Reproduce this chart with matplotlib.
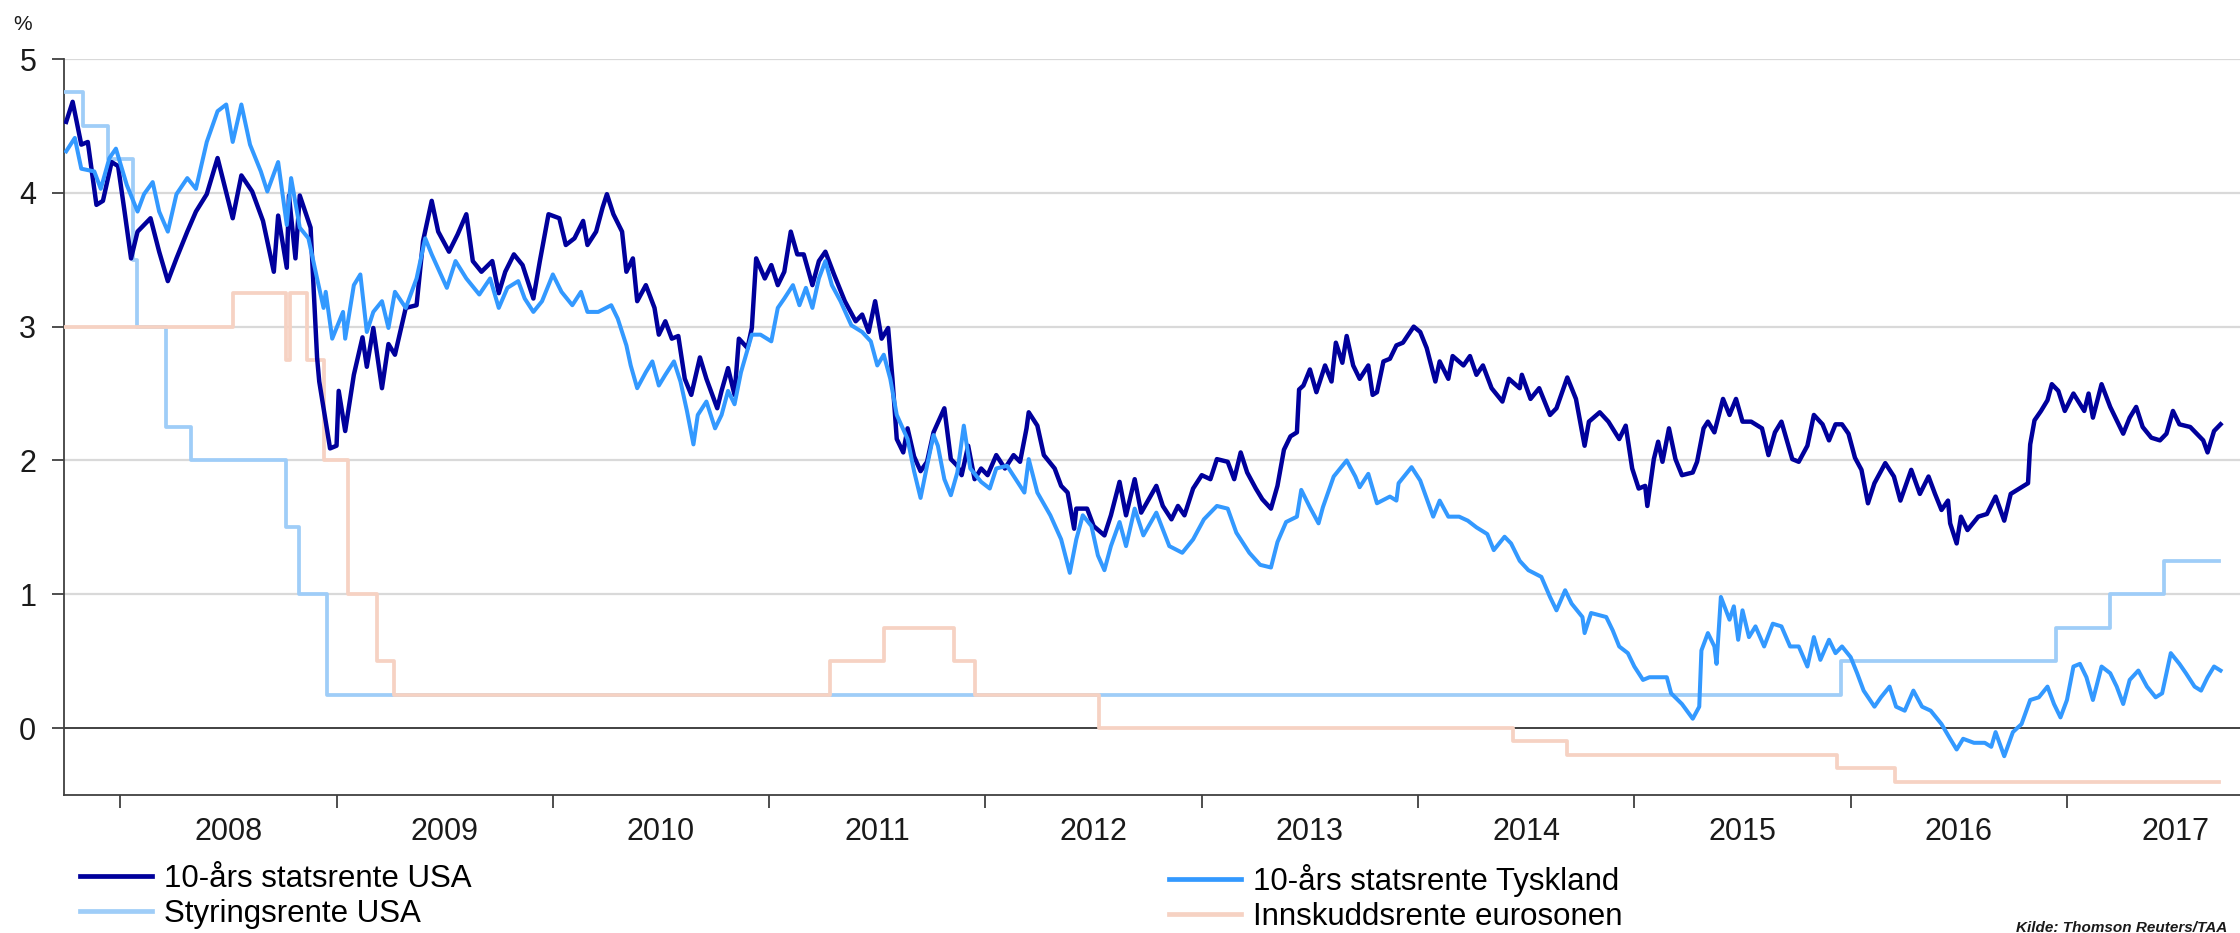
import matplotlib
matplotlib.use('Agg')
import matplotlib.pyplot as plt
from matplotlib.lines import Line2D
import numpy as np
import pandas as pd

plt.rcParams['font.family'] = ['Liberation Sans', 'DejaVu Sans']

# 10-year US treasury yield (decimal year, %)
us_year = [
    2007.75, 2007.78, 2007.82, 2007.85, 2007.89, 2007.92, 2007.96, 2007.99,
    2008.02, 2008.05, 2008.08, 2008.14, 2008.18, 2008.22, 2008.26, 2008.31, 2008.35, 2008.40,
    2008.45, 2008.52, 2008.56, 2008.61, 2008.66, 2008.71, 2008.73, 2008.77, 2008.78, 2008.81,
    2008.83, 2008.88, 2008.91, 2008.92, 2008.97,
    2009.00, 2009.01, 2009.04, 2009.08, 2009.12, 2009.14, 2009.17, 2009.21, 2009.24, 2009.27,
    2009.32, 2009.37, 2009.40, 2009.44, 2009.47, 2009.52, 2009.56, 2009.60, 2009.63, 2009.67,
    2009.72, 2009.75, 2009.78, 2009.82, 2009.86, 2009.91, 2009.94, 2009.98,
    2010.03, 2010.06, 2010.10, 2010.14, 2010.16, 2010.20, 2010.23, 2010.25, 2010.28, 2010.32,
    2010.34, 2010.37, 2010.39, 2010.43, 2010.47, 2010.49, 2010.52, 2010.55, 2010.58, 2010.61,
    2010.64, 2010.68, 2010.71, 2010.76, 2010.78, 2010.81, 2010.84, 2010.86, 2010.90, 2010.92,
    2010.94, 2010.98,
    2011.01, 2011.04, 2011.07, 2011.10, 2011.13, 2011.16, 2011.20, 2011.23, 2011.26, 2011.30,
    2011.35, 2011.40, 2011.43, 2011.46, 2011.49, 2011.52, 2011.55, 2011.57, 2011.59, 2011.62,
    2011.64, 2011.67, 2011.70, 2011.73, 2011.76, 2011.81, 2011.84, 2011.87, 2011.89, 2011.92,
    2011.95, 2011.98,
    2012.01, 2012.05, 2012.09, 2012.13, 2012.16, 2012.19, 2012.20, 2012.24, 2012.27, 2012.32,
    2012.35, 2012.38, 2012.41, 2012.42, 2012.47, 2012.50, 2012.55, 2012.58, 2012.62, 2012.65,
    2012.69, 2012.72, 2012.79, 2012.82, 2012.86, 2012.89, 2012.92, 2012.96,
    2013.00, 2013.04, 2013.07, 2013.12, 2013.15, 2013.18, 2013.21, 2013.25, 2013.28, 2013.32,
    2013.35, 2013.38, 2013.41, 2013.44, 2013.45, 2013.47, 2013.50, 2013.53, 2013.57, 2013.60,
    2013.62, 2013.65, 2013.67, 2013.70, 2013.73, 2013.77, 2013.79, 2013.81, 2013.84, 2013.87,
    2013.90, 2013.93, 2013.98,
    2014.01, 2014.04, 2014.08, 2014.10, 2014.14, 2014.16, 2014.21, 2014.24, 2014.27, 2014.30,
    2014.34, 2014.39, 2014.42, 2014.47, 2014.48, 2014.52, 2014.56, 2014.61, 2014.64, 2014.69,
    2014.73, 2014.77, 2014.79, 2014.84, 2014.88, 2014.93, 2014.96, 2014.99,
    2015.02, 2015.05, 2015.06, 2015.09, 2015.11, 2015.13, 2015.16, 2015.19, 2015.22, 2015.27,
    2015.29, 2015.32, 2015.34, 2015.37, 2015.41, 2015.44, 2015.47, 2015.50, 2015.54, 2015.59,
    2015.62, 2015.65, 2015.68, 2015.73, 2015.76, 2015.80, 2015.83, 2015.87, 2015.90, 2015.93,
    2015.96, 2015.99,
    2016.02, 2016.05, 2016.08, 2016.11, 2016.16, 2016.20, 2016.23, 2016.28, 2016.32, 2016.36,
    2016.39, 2016.42, 2016.45, 2016.46, 2016.49, 2016.51, 2016.54, 2016.59, 2016.63, 2016.67,
    2016.71, 2016.74, 2016.79, 2016.82, 2016.83, 2016.85, 2016.88, 2016.91, 2016.93, 2016.96,
    2016.99,
    2017.03, 2017.08, 2017.10, 2017.12, 2017.16, 2017.20, 2017.26, 2017.29, 2017.32, 2017.35,
    2017.39, 2017.43, 2017.46, 2017.49, 2017.52, 2017.57, 2017.60, 2017.63, 2017.65, 2017.68,
    2017.71,
]
us_yield = [
    4.53, 4.68, 4.36, 4.38, 3.91, 3.94, 4.23, 4.20,
    3.86, 3.51, 3.71, 3.81, 3.56, 3.34, 3.51, 3.71, 3.86, 3.99,
    4.26, 3.81, 4.13, 4.01, 3.79, 3.41, 3.83, 3.44, 3.98, 3.51,
    3.98, 3.74, 2.77, 2.59, 2.09,
    2.11, 2.52, 2.22, 2.64, 2.92, 2.70, 2.99, 2.54, 2.87, 2.79,
    3.14, 3.16, 3.64, 3.94, 3.71, 3.56, 3.69, 3.84, 3.49, 3.41,
    3.49, 3.25, 3.41, 3.54, 3.46, 3.21, 3.49, 3.84,
    3.81, 3.61, 3.66, 3.79, 3.61, 3.71, 3.89, 3.99, 3.84, 3.71,
    3.41, 3.51, 3.19, 3.31, 3.14, 2.94, 3.04, 2.91, 2.93, 2.61,
    2.49, 2.77, 2.61, 2.39, 2.52, 2.69, 2.49, 2.91, 2.84, 2.99,
    3.51, 3.36,
    3.46, 3.31, 3.41, 3.71, 3.54, 3.54, 3.31, 3.49, 3.56, 3.39,
    3.19, 3.04, 3.09, 2.96, 3.19, 2.91, 2.99, 2.61, 2.16, 2.06,
    2.24, 2.03, 1.92, 1.99, 2.21, 2.39, 2.01, 1.96, 1.89, 2.11,
    1.86, 1.94,
    1.89, 2.04, 1.94, 2.04, 1.99, 2.24, 2.36, 2.26, 2.04, 1.94,
    1.81, 1.76, 1.49, 1.64, 1.64, 1.51, 1.44, 1.59, 1.84, 1.59,
    1.86, 1.61, 1.81, 1.66, 1.56, 1.66, 1.59, 1.79,
    1.89, 1.86, 2.01, 1.99, 1.86, 2.06, 1.91, 1.79, 1.71, 1.64,
    1.81, 2.08, 2.18, 2.21, 2.53, 2.56, 2.68, 2.51, 2.71, 2.59,
    2.88, 2.73, 2.93, 2.71, 2.61, 2.71, 2.49, 2.51, 2.74, 2.76,
    2.86, 2.88, 3.00,
    2.96, 2.84, 2.59, 2.74, 2.61, 2.78, 2.71, 2.78, 2.64, 2.71,
    2.54, 2.44, 2.61, 2.54, 2.64, 2.46, 2.54, 2.34, 2.39, 2.62,
    2.46, 2.11, 2.29, 2.36, 2.29, 2.16, 2.26, 1.94,
    1.79, 1.81, 1.66, 2.01, 2.14, 1.99, 2.24, 2.01, 1.89, 1.91,
    1.99, 2.24, 2.29, 2.21, 2.46, 2.34, 2.46, 2.29, 2.29, 2.24,
    2.04, 2.21, 2.29, 2.01, 1.99, 2.11, 2.34, 2.27, 2.15, 2.27,
    2.27, 2.20,
    2.02, 1.93, 1.68, 1.83, 1.98, 1.88, 1.70, 1.93, 1.75, 1.88,
    1.75, 1.63, 1.70, 1.53, 1.38, 1.58, 1.48, 1.58, 1.60, 1.73,
    1.55, 1.75, 1.80, 1.83, 2.12, 2.30, 2.37, 2.45, 2.57, 2.52,
    2.37,
    2.50, 2.37, 2.50, 2.32, 2.57, 2.40, 2.20, 2.32, 2.40, 2.25,
    2.17, 2.15, 2.20, 2.37, 2.27, 2.25, 2.20, 2.15, 2.06, 2.22,
    2.27,
]

# 10-year German government bond yield
de_year = [
    2007.75, 2007.79, 2007.82, 2007.88, 2007.91, 2007.95, 2007.98,
    2008.03, 2008.08, 2008.11, 2008.15, 2008.18, 2008.22, 2008.26, 2008.31, 2008.35, 2008.40,
    2008.45, 2008.49, 2008.52, 2008.56, 2008.60, 2008.65, 2008.68, 2008.73, 2008.77, 2008.79,
    2008.83, 2008.87, 2008.91, 2008.94, 2008.95, 2008.98,
    2009.03, 2009.04, 2009.08, 2009.11, 2009.14, 2009.17, 2009.21, 2009.24, 2009.27, 2009.32,
    2009.37, 2009.41, 2009.44, 2009.51, 2009.55, 2009.60, 2009.66, 2009.71, 2009.75, 2009.79,
    2009.84, 2009.87, 2009.91, 2009.95,
    2010.00, 2010.04, 2010.09, 2010.13, 2010.16, 2010.21, 2010.27, 2010.30, 2010.34, 2010.36,
    2010.39, 2010.43, 2010.46, 2010.49, 2010.52, 2010.56, 2010.59, 2010.62, 2010.65, 2010.67,
    2010.71, 2010.75, 2010.78, 2010.81, 2010.84, 2010.87, 2010.92, 2010.96,
    2011.01, 2011.04, 2011.07, 2011.11, 2011.14, 2011.17, 2011.20, 2011.23, 2011.26, 2011.29,
    2011.33, 2011.38, 2011.43, 2011.47, 2011.50, 2011.53, 2011.56, 2011.59, 2011.64, 2011.67,
    2011.70, 2011.73, 2011.76, 2011.78, 2011.81, 2011.84, 2011.87, 2011.90, 2011.93, 2011.98,
    2012.02, 2012.05, 2012.10, 2012.14, 2012.18, 2012.20, 2012.24, 2012.30, 2012.35, 2012.39,
    2012.42, 2012.45, 2012.49, 2012.52, 2012.55, 2012.58, 2012.62, 2012.65, 2012.69, 2012.73,
    2012.79, 2012.85, 2012.91, 2012.96,
    2013.01, 2013.07, 2013.12, 2013.16, 2013.22, 2013.27, 2013.32, 2013.35, 2013.39, 2013.44,
    2013.46, 2013.50, 2013.54, 2013.56, 2013.61, 2013.67, 2013.71, 2013.73, 2013.77, 2013.81,
    2013.87, 2013.90, 2013.91, 2013.97,
    2014.01, 2014.07, 2014.10, 2014.14, 2014.19, 2014.23, 2014.27, 2014.32, 2014.35, 2014.40,
    2014.43, 2014.47, 2014.51, 2014.57, 2014.61, 2014.64, 2014.68, 2014.71, 2014.76, 2014.77,
    2014.80, 2014.87, 2014.90, 2014.93, 2014.97,
    2015.00, 2015.04, 2015.07, 2015.11, 2015.15, 2015.17, 2015.22, 2015.27, 2015.30, 2015.31,
    2015.34, 2015.37, 2015.38, 2015.40, 2015.44, 2015.46, 2015.48, 2015.50, 2015.53, 2015.56,
    2015.60, 2015.64, 2015.68, 2015.72, 2015.76, 2015.80, 2015.83, 2015.86, 2015.90, 2015.93,
    2015.96,
    2016.00, 2016.03, 2016.06, 2016.11, 2016.14, 2016.18, 2016.21, 2016.25, 2016.29, 2016.33,
    2016.37, 2016.42, 2016.46, 2016.49, 2016.52, 2016.57, 2016.62, 2016.65, 2016.67, 2016.71,
    2016.75, 2016.79, 2016.83, 2016.87, 2016.91, 2016.94, 2016.97,
    2017.00, 2017.03, 2017.06, 2017.09, 2017.12, 2017.16, 2017.20, 2017.23, 2017.26, 2017.29,
    2017.33, 2017.37, 2017.41, 2017.44, 2017.48, 2017.52, 2017.55, 2017.59, 2017.62, 2017.65,
    2017.68, 2017.71,
]
de_yield = [
    4.31, 4.41, 4.18, 4.16, 4.03, 4.26, 4.33,
    4.06, 3.86, 3.99, 4.08, 3.86, 3.71, 3.99, 4.11, 4.03, 4.38,
    4.61, 4.66, 4.38, 4.66, 4.36, 4.16, 4.01, 4.23, 3.76, 4.11,
    3.74, 3.66, 3.36, 3.14, 3.26, 2.91,
    3.11, 2.91, 3.31, 3.39, 2.96, 3.11, 3.19, 2.99, 3.26, 3.14,
    3.36, 3.66, 3.54, 3.29, 3.49, 3.36, 3.24, 3.36, 3.14, 3.29,
    3.34, 3.21, 3.11, 3.19,
    3.39, 3.26, 3.16, 3.26, 3.11, 3.11, 3.16, 3.06, 2.86, 2.71,
    2.54, 2.66, 2.74, 2.56, 2.64, 2.74, 2.59, 2.37, 2.12, 2.34,
    2.44, 2.24, 2.34, 2.52, 2.42, 2.66, 2.94, 2.94,
    2.89, 3.14, 3.21, 3.31, 3.16, 3.29, 3.14, 3.36, 3.49, 3.31,
    3.19, 3.01, 2.96, 2.89, 2.71, 2.79, 2.61, 2.34, 2.16, 1.92,
    1.72, 1.96, 2.19, 2.11, 1.86, 1.74, 1.91, 2.26, 1.94, 1.84,
    1.79, 1.94, 1.96, 1.86, 1.76, 2.01, 1.76, 1.59, 1.41, 1.16,
    1.41, 1.59, 1.51, 1.29, 1.18, 1.36, 1.54, 1.36, 1.64, 1.44,
    1.61, 1.36, 1.31, 1.41,
    1.56, 1.66, 1.64, 1.46, 1.31, 1.22, 1.20, 1.39, 1.54, 1.58,
    1.78, 1.65, 1.53, 1.65, 1.88, 2.00, 1.88, 1.80, 1.90, 1.68,
    1.73, 1.70, 1.83, 1.95,
    1.85, 1.58, 1.70, 1.58, 1.58, 1.55, 1.50, 1.45, 1.33, 1.43,
    1.38, 1.25, 1.18, 1.13, 0.98, 0.88, 1.03, 0.93, 0.83, 0.71,
    0.86, 0.83, 0.73, 0.61, 0.56,
    0.46, 0.36, 0.38, 0.38, 0.38, 0.26, 0.18, 0.07, 0.16, 0.58,
    0.71, 0.61, 0.48, 0.98, 0.81, 0.91, 0.66, 0.88, 0.68, 0.76,
    0.61, 0.78, 0.76, 0.61, 0.61, 0.46, 0.68, 0.51, 0.66, 0.56,
    0.61,
    0.53, 0.41, 0.28, 0.16, 0.23, 0.31, 0.16, 0.13, 0.28, 0.16,
    0.13, 0.03, -0.08, -0.16, -0.08, -0.11, -0.11, -0.14, -0.03, -0.21,
    -0.03, 0.03, 0.21, 0.23, 0.31, 0.18, 0.08,
    0.21, 0.46, 0.48, 0.38, 0.21, 0.46, 0.41, 0.31, 0.18, 0.36,
    0.43, 0.31, 0.23, 0.26, 0.56, 0.48, 0.41, 0.31, 0.28, 0.38,
    0.46, 0.43,
]

# policy rates: dates of change and new level
fed_dates = ['2007-09-18', '2007-10-31', '2007-12-11', '2008-01-22', '2008-01-30',
             '2008-03-18', '2008-04-30', '2008-10-08', '2008-10-29', '2008-12-16',
             '2015-12-16', '2016-12-14', '2017-03-15', '2017-06-14']
fed_rate = [4.75, 4.50, 4.25, 3.50, 3.00, 2.25, 2.00, 1.50, 1.00, 0.25,
            0.50, 0.75, 1.00, 1.25]

ecb_dates = ['2007-06-13', '2008-07-09', '2008-10-08', '2008-10-15', '2008-11-12',
             '2008-12-10', '2009-01-21', '2009-03-11', '2009-04-08', '2011-04-13',
             '2011-07-13', '2011-11-09', '2011-12-14', '2012-07-11', '2014-06-11',
             '2014-09-10', '2015-12-09', '2016-03-16']
ecb_rate = [3.00, 3.25, 2.75, 3.25, 2.75, 2.00, 1.00, 0.50, 0.25, 0.50,
            0.75, 0.50, 0.25, 0.00, -0.10, -0.20, -0.30, -0.40]

last_date = '2017-09-15'
years = list(range(2008, 2018))

labels = ['10-års statsrente USA', 'Styringsrente USA',
          '10-års statsrente Tyskland', 'Innskuddsrente eurosonen']
c_us, c_fed, c_de, c_ecb = '#00009c', '#9fcdf8', '#3399ff', '#f6d2c3'


def decyear(s):
    d = pd.Timestamp(s)
    n = 366 if d.is_leap_year else 365
    return d.year + (d.dayofyear - 1) / n


def steps(dates, rates):
    x = [decyear(d) for d in dates] + [decyear(last_date)]
    y = list(rates) + [rates[-1]]
    return x, y


W, H = 2240, 933
fig = plt.figure(figsize=(W / 100, H / 100), dpi=100)
ax = fig.add_axes([64 / W, 1 - 795 / H, 1 - 64 / W, (795 - 59) / H])

for yv in range(1, 6):
    ax.axhline(yv, color='#d9d9d9', lw=1.6, zorder=1)
ax.axhline(0, color='#333333', lw=1.3, zorder=2)

fx, fy = steps(fed_dates, fed_rate)
ex, ey = steps(ecb_dates, ecb_rate)
ax.plot(fx, fy, drawstyle='steps-post', color=c_fed, lw=2.7, zorder=3)
ax.plot(ex, ey, drawstyle='steps-post', color=c_ecb, lw=2.7, zorder=4)
ax.plot(us_year, us_yield, color=c_us, lw=3.2, zorder=5)
ax.plot(de_year, de_yield, color=c_de, lw=2.9, zorder=6)

ax.set_xlim(2007.74, 2017.80)
ax.set_ylim(-0.5, 5.0)

for s in ['top', 'right']:
    ax.spines[s].set_visible(False)
for s in ['left', 'bottom']:
    ax.spines[s].set_color('#404040')
    ax.spines[s].set_linewidth(1.3)

ax.set_yticks(range(0, 6))
ax.tick_params(axis='y', direction='out', length=9, width=1.3, color='#404040',
               labelsize=22, pad=11, labelcolor='#1a1a1a')
ax.set_xticks(years)
ax.set_xticklabels([])
ax.set_xticks([y + 0.5 for y in years], minor=True)
ax.set_xticklabels([str(y) for y in years], minor=True)
ax.tick_params(axis='x', which='major', direction='out', length=9, width=1.3, color='#404040')
ax.tick_params(axis='x', which='minor', length=0, labelsize=22, pad=16, labelcolor='#1a1a1a')

fig.text(13 / W, 1 - 30 / H, '%', fontsize=15, color='#1a1a1a')

h = [Line2D([], [], color=c, lw=3.4) for c in (c_us, c_fed, c_de, c_ecb)]
legkw = dict(loc='upper left', frameon=False, fontsize=22.5, handlelength=2.3,
             handletextpad=0.4, labelspacing=0.15, borderpad=0, borderaxespad=0)
fig.legend(h[:2], labels[:2], bbox_to_anchor=(80 / W, 1 - 864 / H), **legkw)
fig.legend(h[2:], labels[2:], bbox_to_anchor=(1169 / W, 1 - 864 / H), **legkw)

fig.text(2227 / W, 1 - 928 / H, 'Kilde: Thomson Reuters/TAA', ha='right', va='center',
         fontsize=11, fontweight='bold', style='italic', color='#1a1a1a')

fig.savefig('out.png', dpi=100)
